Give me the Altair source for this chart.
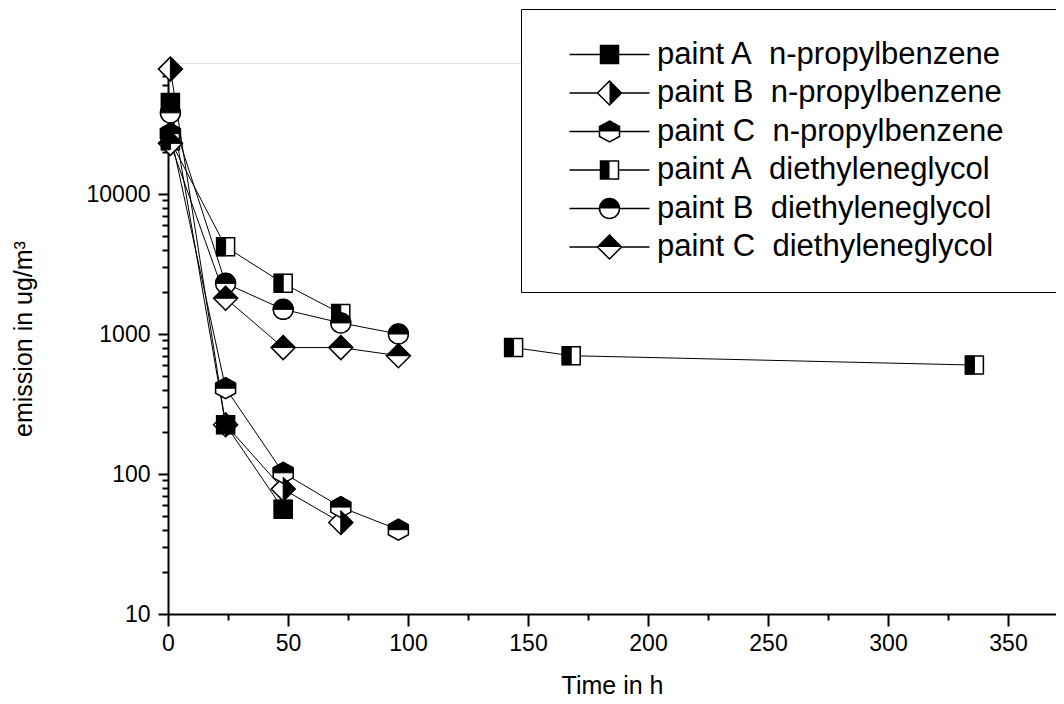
import altair as alt
import pandas as pd

# ---- data ----
series = [
    "paint A\u00a0 n-propylbenzene",
    "paint B\u00a0 n-propylbenzene",
    "paint C\u00a0 n-propylbenzene",
    "paint A\u00a0 diethyleneglycol",
    "paint B\u00a0 diethyleneglycol",
    "paint C\u00a0 diethyleneglycol",
]

t_A_np = [1, 24, 48]
v_A_np = [45000, 225, 56]

t_B_np = [1, 24, 48, 72]
v_B_np = [78000, 225, 78, 45]

t_C_np = [1, 24, 48, 72, 96]
v_C_np = [27000, 410, 102, 58, 40]

t_A_dg = [1, 24, 48, 72, 144, 168, 336]
v_A_dg = [24000, 4200, 2300, 1400, 800, 700, 600]
seg_A_dg = [0, 0, 0, 0, 1, 1, 1]   # line is broken between 72 h and 144 h

t_B_dg = [1, 24, 48, 72, 96]
v_B_dg = [38000, 2300, 1500, 1200, 1000]

t_C_dg = [1, 24, 48, 72, 96]
v_C_dg = [23000, 1800, 800, 800, 700]

x_major = [0, 50, 100, 150, 200, 250, 300, 350]
x_minor = [25, 75, 125, 175, 225, 275, 325]
y_major = [10, 100, 1000, 10000]
y_minor = [m * d for d in (10, 100, 1000, 10000) for m in range(2, 10) if m * d < 86000]

# ---- marker shapes (SVG paths in unit box) ----
outline_paths = [
    "M-0.9,-0.9L0.9,-0.9L0.9,0.9L-0.9,0.9Z",
    "M-1.2,0L0,-1.2L1.2,0L0,1.2Z",
    "M0,-1.05L1,-0.5L1,0.5L0,1.05L-1,0.5L-1,-0.5Z",
    "M-0.9,-0.9L0.9,-0.9L0.9,0.9L-0.9,0.9Z",
    "M-1,0A1,1,0,1,1,1,0A1,1,0,1,1,-1,0Z",
    "M-1.2,0L0,-1.2L1.2,0L0,1.2Z",
]
half_paths = [
    "M-0.9,-0.9L0.9,-0.9L0.9,0.9L-0.9,0.9Z",
    "M0,-1.2L1.2,0L0,1.2Z",
    "M-1,0L-1,-0.5L0,-1.05L1,-0.5L1,0Z",
    "M-0.9,-0.9L0,-0.9L0,0.9L-0.9,0.9Z",
    "M-1,0A1,1,0,0,1,1,0Z",
    "M-1.2,0L0,-1.2L1.2,0Z",
]
line_gap = [0.9, 1.2, 1.0, 0.9, 1.0, 1.2]
legend_paths = [f"M-4,0L-{g},0M{g},0L4,0" + p for g, p in zip(line_gap, outline_paths)]

# ---- table ----
rows = []
for name, ts, vs, segs in [
    (series[0], t_A_np, v_A_np, None),
    (series[1], t_B_np, v_B_np, None),
    (series[2], t_C_np, v_C_np, None),
    (series[3], t_A_dg, v_A_dg, seg_A_dg),
    (series[4], t_B_dg, v_B_dg, None),
    (series[5], t_C_dg, v_C_dg, None),
]:
    for i, (t, v) in enumerate(zip(ts, vs)):
        s = segs[i] if segs else 0
        rows.append({"series": name, "t": t, "v": v, "key": f"{name}-{s}"})
df = pd.DataFrame(rows)

FONT = "Liberation Sans"
xscale = alt.Scale(domain=[0, 370], nice=False, zero=False)
yscale = alt.Scale(type="log", domain=[10, 86260], nice=False)

common_axis = dict(grid=False, tickColor="black", domainColor="black",
                   tickWidth=2, domainWidth=2)

x_ax_major = alt.Axis(values=x_major, orient="bottom", title="Time in h", format="d",
                      tickSize=12, labelFont=FONT, labelFontSize=23, labelColor="black",
                      labelPadding=6, titleFont=FONT, titleFontSize=25,
                      titleFontWeight="normal", titleColor="black", titlePadding=18,
                      labelFlush=False, labelOverlap=False, **common_axis)
x_ax_minor = alt.Axis(values=x_minor, orient="bottom", labels=False, domain=False,
                      tickSize=6, title=None, grid=False, tickColor="black", tickWidth=2)
y_ax_major = alt.Axis(values=y_major, orient="left", title="emission in ug/m³", format="d",
                      tickSize=10, labelFont=FONT, labelFontSize=23, labelColor="black",
                      labelPadding=8, titleFont=FONT, titleFontSize=25,
                      titleFontWeight="normal", titleColor="black", titlePadding=50,
                      labelOverlap=False, **common_axis)
y_ax_minor = alt.Axis(values=y_minor, orient="left", labels=False, domain=False,
                      tickSize=6, title=None, grid=False, tickColor="black", tickWidth=2)

base = alt.Chart(df)

lines = base.mark_line(color="black", strokeWidth=1).encode(
    x=alt.X("t:Q", scale=xscale, axis=x_ax_minor),
    y=alt.Y("v:Q", scale=yscale, axis=y_ax_minor),
    detail="key:N",
    order="t:Q",
)

outlines = base.mark_point(filled=True, fill="white", stroke="black", strokeWidth=1.5,
                           size=400, opacity=1).encode(
    x=alt.X("t:Q", scale=xscale, axis=x_ax_major),
    y=alt.Y("v:Q", scale=yscale, axis=y_ax_major),
    shape=alt.Shape("series:N", scale=alt.Scale(domain=series, range=outline_paths),
                    legend=None),
)

legend_common = dict(title=None, orient="none", legendX=353, legendY=-54,
                     labelFont=FONT, labelFontSize=31, symbolSize=400, labelLimit=0,
                     symbolOffset=43, labelOffset=32, rowPadding=6.5, padding=30,
                     labelExpr="datum.label + '   \u200b'")

halves = base.mark_point(filled=True, fill="black", stroke="black", strokeWidth=1,
                         size=400, opacity=1).encode(
    x=alt.X("t:Q", scale=xscale, axis=None),
    y=alt.Y("v:Q", scale=yscale, axis=None),
    shape=alt.Shape("series:N", scale=alt.Scale(domain=series, range=half_paths),
                    legend=alt.Legend(labelOpacity=0, symbolFillColor="black",
                                      symbolStrokeColor="black", symbolStrokeWidth=1,
                                      zindex=2, **legend_common)),
)

legend_layer = base.transform_filter("datum.t < 0").mark_point(
    filled=False, color="black", strokeWidth=1.5, size=400, opacity=1
).encode(
    x=alt.X("t:Q", scale=xscale, axis=None),
    y=alt.Y("v:Q", scale=yscale, axis=None),
    shape=alt.Shape("series:N", scale=alt.Scale(domain=series, range=legend_paths),
                    legend=alt.Legend(labelColor="black", symbolStrokeColor="black",
                                      symbolStrokeWidth=1.5, symbolOpacity=1,
                                      strokeColor="black", fillColor="white",
                                      zindex=1, **legend_common)),
)

chart = alt.layer(lines, outlines, halves, legend_layer).resolve_axis(
    x="independent", y="independent"
).resolve_scale(shape="independent").resolve_legend(shape="independent").properties(
    width=888, height=551,
    padding={"left": 160, "top": 55, "right": 0, "bottom": 85},
    autosize=alt.AutoSizeParams(type="none"),
).configure_view(stroke="transparent", strokeWidth=0).configure_axis(
    grid=False
).configure(background="white")

chart.save("out.html", embed_options={"renderer": "svg", "actions": False})
